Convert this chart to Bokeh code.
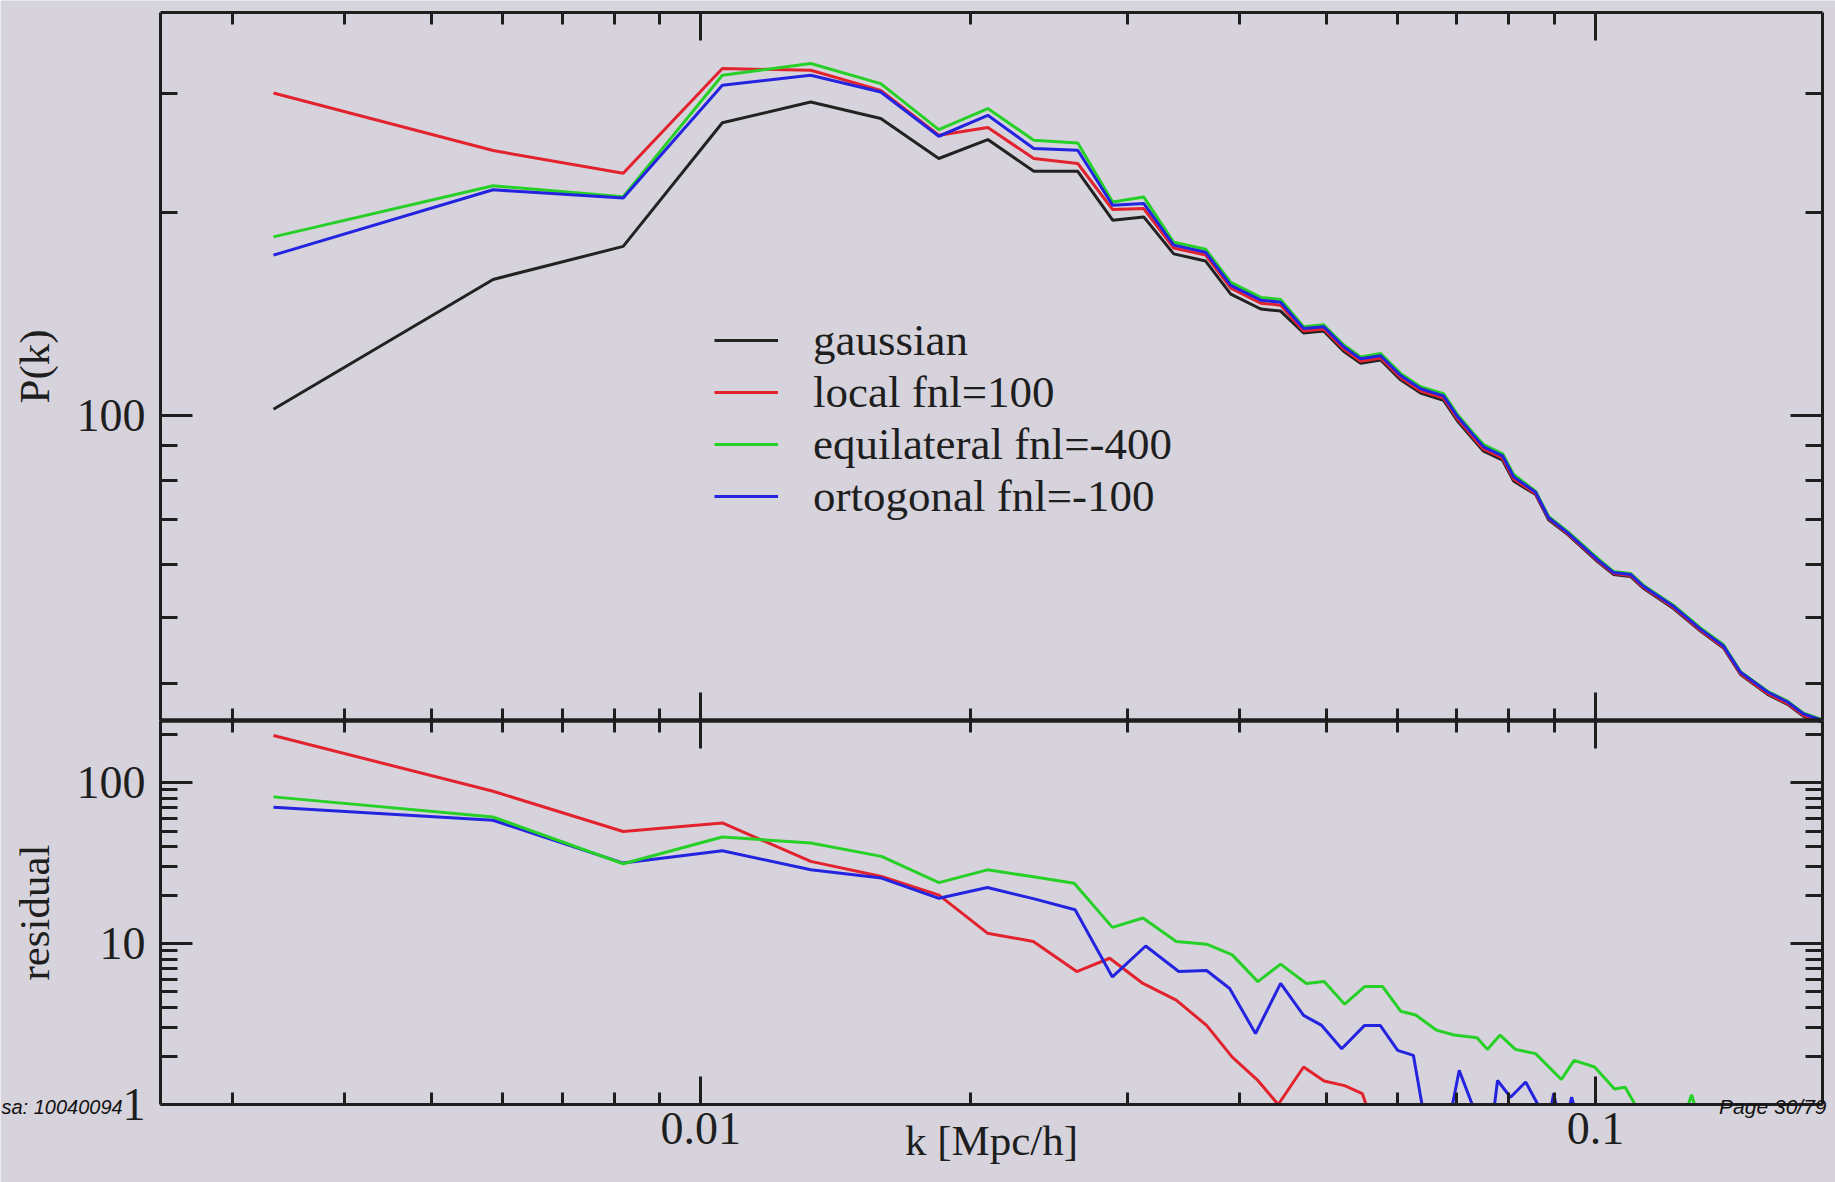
import math
from bokeh.plotting import figure
from bokeh.models import (LogAxis, FixedTicker, Range1d, LogScale, Legend, LegendItem, Label,
                          CustomJSTickFormatter)
from bokeh.embed import file_html
from bokeh.resources import INLINE

nan = float("nan")

# ---------------- data ----------------
k_top = [0.00333, 0.00586, 0.00819, 0.01057, 0.01327, 0.01589, 0.01845, 0.02093, 0.02356, 0.02638,
         0.02886, 0.03126, 0.03377, 0.03666, 0.03911, 0.04225, 0.04446, 0.04717, 0.04967, 0.05229,
         0.05463, 0.05752, 0.06055, 0.06374, 0.06762, 0.07009, 0.07305, 0.07496, 0.07872, 0.08098,
         0.0857, 0.08861, 0.09304, 0.1005, 0.1047, 0.1094, 0.1131, 0.1222, 0.131, 0.139,
         0.1452, 0.1557, 0.1639, 0.1708, 0.1793]

pk_gaussian = [102, 159, 178, 271.6, 291.6, 275.6, 240.4, 256.5, 230.1, 230.1,
               194.7, 196.9, 173.5, 169.3, 151.2, 143.7, 142.7, 132.4, 133.3, 124.4,
               119.4, 120.7, 112.8, 107.8, 105.2, 98.0, 91.9, 88.4, 85.7, 79.8,
               76.2, 69.9, 66.5, 60.6, 58.0, 57.6, 55.3, 51.6, 47.8, 45.1,
               41.2, 38.5, 37.2, 35.7, 35.0]
pk_local = [300.8, 247, 228.6, 326.9, 325, 303.5, 260.3, 267.3, 240.4, 236.3,
            201.9, 202.6, 177.0, 172.8, 154.3, 146.6, 145.6, 133.3, 134.2, 125.3,
            120.2, 121.5, 113.6, 108.6, 106.0, 98.7, 92.5, 89.0, 86.3, 80.4,
            76.4, 70.2, 66.7, 60.8, 58.2, 57.8, 55.5, 51.8, 47.9, 45.2,
            41.3, 38.6, 37.3, 35.8, 35.1]
pk_equil = [183.9, 219, 211, 319.5, 332.6, 310.5, 265.4, 285.2, 255.9, 253.5,
            207.2, 210.8, 180.5, 176.3, 157.4, 149.5, 148.5, 135.3, 136.2, 127.2,
            122.0, 123.4, 115.3, 110.2, 107.6, 100.2, 93.9, 90.4, 87.6, 81.6,
            77.1, 70.7, 67.2, 61.3, 58.6, 58.2, 55.9, 52.2, 48.3, 45.6,
            41.6, 38.9, 37.6, 36.1, 35.3]
pk_ortho = [172.8, 216, 210, 308.8, 319.5, 301.8, 259.4, 278.7, 248.7, 247.3,
            204.9, 206.2, 178.8, 174.5, 155.8, 148.1, 147.1, 134.4, 135.3, 126.3,
            121.2, 122.5, 114.5, 109.4, 106.8, 99.5, 93.3, 89.7, 87.0, 81.0,
            76.8, 70.4, 66.9, 61.0, 58.4, 58.0, 55.7, 52.0, 48.1, 45.4,
            41.5, 38.8, 37.5, 36.0, 35.2]

# residuals; where a curve drops under the lower edge (1) it is broken with nan
k_res_local = [0.00333, 0.00586, 0.00819, 0.01057, 0.01327, 0.01592, 0.01846, 0.02091, 0.02353, 0.02631,
               0.02864, 0.0312, 0.03399, 0.03675, 0.03926, 0.04193, 0.04419, 0.04717, 0.04973, 0.05243,
               0.05486, 0.0554]
res_local = [196, 88.3, 49.7, 56.1, 32.4, 26.1, 20.0, 11.6, 10.3, 6.7,
             8.1, 5.65, 4.45, 3.1, 1.97, 1.41, 1.0, 1.71, 1.40, 1.31,
             1.17, 1.0]

k_res_equil = [0.00333, 0.00586, 0.00819, 0.01057, 0.01327, 0.01592, 0.01846, 0.02091, 0.02353, 0.02614,
               0.02884, 0.0312, 0.03399, 0.03675, 0.03926, 0.04193, 0.04446, 0.0475, 0.04973, 0.05243,
               0.05519, 0.05781, 0.06055, 0.06294, 0.06637, 0.0695, 0.07372, 0.07568, 0.07821, 0.08136,
               0.0857, 0.09156, 0.09462, 0.09975, 0.105, 0.1079, 0.1107, nan, 0.127, 0.128, 0.129]
res_equil = [81.5, 61.1, 31.3, 45.9, 42.1, 34.8, 23.9, 28.7, 26.0, 23.7,
             12.6, 14.4, 10.3, 9.9, 8.5, 5.8, 7.45, 5.65, 5.8, 4.2,
             5.4, 5.4, 3.8, 3.6, 2.9, 2.7, 2.6, 2.2, 2.7, 2.2,
             2.07, 1.43, 1.88, 1.71, 1.25, 1.28, 1.0, nan, 1.0, 1.15, 1.0]

k_res_ortho = [0.00333, 0.00586, 0.00819, 0.01057, 0.01327, 0.01592, 0.01846, 0.02091, 0.02353, 0.0262,
               0.02884, 0.03142, 0.03421, 0.03675, 0.039, 0.04168, 0.04446, 0.04717, 0.04942, 0.05203,
               0.05519, 0.05745, 0.06009, 0.06257, 0.06397, nan, 0.0692, 0.0704, 0.0728, nan,
               0.0771, 0.0777, 0.08035, 0.08353, 0.0862, nan, 0.0893, 0.08978, 0.0903, nan,
               0.0936, 0.09402, 0.0945]
res_ortho = [70.3, 58.3, 31.6, 37.7, 28.7, 25.5, 19.1, 22.3, 19.0, 16.2,
             6.2, 9.65, 6.7, 6.8, 5.26, 2.76, 5.65, 3.58, 3.1, 2.22,
             3.1, 3.1, 2.17, 2.02, 1.0, nan, 1.0, 1.63, 1.0, nan,
             1.0, 1.41, 1.11, 1.38, 1.0, nan, 1.0, 1.17, 1.0, nan,
             1.0, 1.11, 1.0]

series_names = ["gaussian", "local fnl=100", "equilateral fnl=-400", "ortogonal fnl=-100"]

x_ticks = [0.01, 0.1]
x_tick_labels = ["0.01", "0.1"]
x_minor = [0.003, 0.004, 0.005, 0.006, 0.007, 0.008, 0.009,
           0.02, 0.03, 0.04, 0.05, 0.06, 0.07, 0.08, 0.09]
pk_ticks = [100]
pk_tick_labels = ["100"]
pk_minor = [40, 50, 60, 70, 80, 90, 200, 300]
res_ticks = [1, 10, 100]
res_tick_labels = ["1", "10", "100"]
res_minor = [2, 3, 4, 5, 6, 7, 8, 9, 20, 30, 40, 50, 60, 70, 80, 90, 200]

x_label = "k [Mpc/h]"
y_label_top = "P(k)"
y_label_bottom = "residual"
footer_left = "sa: 10040094"
footer_right = "Page 30/79"

# axis limits of the two panels
K_LO, K_HI = 0.00249, 0.1793
PK_LO, PK_HI = 35.2, 396.0
RES_LO, RES_HI = 1.0, 243.0

# ---------------- layout / style ----------------
W, H = 1835, 1182
FX0, FX1 = 160, 1822            # left / right edge of both panels (px)
Y_TOP, Y_MID, Y_BOT = 12, 720, 1104   # top edge, divider, bottom edge (px from top)

BG = "#d6d3dc"
INK = "#1e1e1e"
SERIF = "Liberation Serif"
COLORS = {"gaussian": "#222222", "local": "#e2232e", "equil": "#27d027", "ortho": "#2424e0"}


def full_range(lo, hi, p_lo, p_hi, total):
    """Log range spanning the whole canvas so that lo sits at pixel p_lo and hi at p_hi."""
    a = (math.log10(hi) - math.log10(lo)) / (p_hi - p_lo)
    start = 10 ** (math.log10(lo) - a * p_lo)
    end = 10 ** (math.log10(lo) + a * (total - p_lo))
    return Range1d(start, end)


xr = full_range(K_LO, K_HI, FX0, FX1, W)
yr = full_range(PK_LO, PK_HI, H - Y_MID, H - Y_TOP, H)
rr = full_range(RES_LO, RES_HI, H - Y_BOT, H - Y_MID, H)

p = figure(width=W, height=H, x_axis_type="log", y_axis_type="log",
           x_range=xr, y_range=yr, x_axis_location=None, y_axis_location=None,
           extra_y_ranges={"res": rr}, extra_y_scales={"res": LogScale()},
           output_backend="svg", toolbar_location=None,
           min_border=0, min_border_left=0, min_border_right=0,
           min_border_top=0, min_border_bottom=0,
           background_fill_color=BG, border_fill_color=BG, outline_line_color=None)
p.grid.grid_line_color = None


def add_axis(place, ticks, minor, labels, major_len, minor_len, fixed, bounds,
             range_name=None, show=False, line_w=3):
    kw = {"y_range_name": range_name} if range_name else {}
    ax = LogAxis(fixed_location=fixed, bounds=bounds, **kw)
    ax.ticker = FixedTicker(ticks=ticks, minor_ticks=minor)
    ax.axis_line_color = INK
    ax.axis_line_width = line_w
    ax.major_tick_line_color = INK
    ax.major_tick_line_width = 3
    ax.minor_tick_line_color = INK
    ax.minor_tick_line_width = 3
    ax.major_tick_in = major_len
    ax.major_tick_out = 0
    ax.minor_tick_in = minor_len
    ax.minor_tick_out = 0
    if show:
        ax.formatter = CustomJSTickFormatter(code="return String(tick)")
        ax.major_label_overrides = {t: l for t, l in zip(ticks, labels)}
        ax.major_label_text_font = SERIF
        ax.major_label_text_font_size = "46px"
        ax.major_label_text_color = INK
    else:
        ax.formatter = CustomJSTickFormatter(code="return ''")
        ax.major_label_text_font_size = "1px"
        ax.major_label_text_alpha = 0
        ax.major_label_standoff = 0
    p.add_layout(ax, place)
    return ax


def set_title(ax, text, standoff):
    ax.axis_label = text
    ax.axis_label_text_font = SERIF
    ax.axis_label_text_font_size = "43px"
    ax.axis_label_text_font_style = "normal"
    ax.axis_label_text_color = INK
    ax.axis_label_standoff = standoff


# ---------------- curves ----------------
r_g = p.line(k_top, pk_gaussian, line_color=COLORS["gaussian"], line_width=3)
r_l = p.line(k_top, pk_local, line_color=COLORS["local"], line_width=3)
r_e = p.line(k_top, pk_equil, line_color=COLORS["equil"], line_width=3)
r_o = p.line(k_top, pk_ortho, line_color=COLORS["ortho"], line_width=3)

p.line(k_res_local, res_local, y_range_name="res", line_color=COLORS["local"], line_width=3)
p.line(k_res_ortho, res_ortho, y_range_name="res", line_color=COLORS["ortho"], line_width=3)
p.line(k_res_equil, res_equil, y_range_name="res", line_color=COLORS["equil"], line_width=3)

# ---------------- axes: top panel ----------------
ax = add_axis("left", pk_ticks, pk_minor, pk_tick_labels, 32, 17, K_LO, (PK_LO, PK_HI), show=True)
ax.major_label_standoff = 15
set_title(ax, y_label_top, 16)
add_axis("right", pk_ticks, pk_minor, pk_tick_labels, 32, 17, K_HI, (PK_LO, PK_HI))
add_axis("above", x_ticks, x_minor, x_tick_labels, 28, 12, PK_HI, (K_LO, K_HI))
add_axis("below", x_ticks, x_minor, x_tick_labels, 28, 12, PK_LO, (K_LO, K_HI), line_w=4)

# ---------------- axes: residual panel ----------------
add_axis("above", x_ticks, x_minor, x_tick_labels, 28, 12, RES_HI, (K_LO, K_HI),
         range_name="res", line_w=4)
ax = add_axis("below", x_ticks, x_minor, x_tick_labels, 28, 12, RES_LO, (K_LO, K_HI),
              range_name="res", show=True)
ax.major_label_standoff = 8
set_title(ax, x_label, -30)
ax = add_axis("left", res_ticks, res_minor, res_tick_labels, 32, 17, K_LO, (RES_LO, RES_HI),
              range_name="res", show=True)
ax.major_label_standoff = 15
set_title(ax, y_label_bottom, 16)
add_axis("right", res_ticks, res_minor, res_tick_labels, 32, 17, K_HI, (RES_LO, RES_HI),
         range_name="res")

# ---------------- legend ----------------
legend = Legend(items=[LegendItem(label=n, renderers=[r]) for n, r in
                       zip(series_names, [r_g, r_l, r_e, r_o])],
                location=(714, 660), orientation="vertical",
                label_text_font=SERIF, label_text_font_size="45px", label_text_color=INK,
                glyph_width=64, glyph_height=20, label_standoff=35, spacing=0,
                padding=0, margin=0, border_line_alpha=0, background_fill_alpha=0)
p.add_layout(legend)

# ---------------- slide footer ----------------
p.add_layout(Label(x=1, y=H - 1106, x_units="screen", y_units="screen", text=footer_left,
                   text_font="Liberation Sans", text_font_style="italic",
                   text_font_size="20px", text_color="#111111",
                   text_align="left", text_baseline="middle"))
p.add_layout(Label(x=1826, y=H - 1106, x_units="screen", y_units="screen", text=footer_right,
                   text_font="Liberation Sans", text_font_style="italic",
                   text_font_size="21px", text_color="#111111",
                   text_align="right", text_baseline="middle"))

open("out.html", "w").write(file_html(p, INLINE))
